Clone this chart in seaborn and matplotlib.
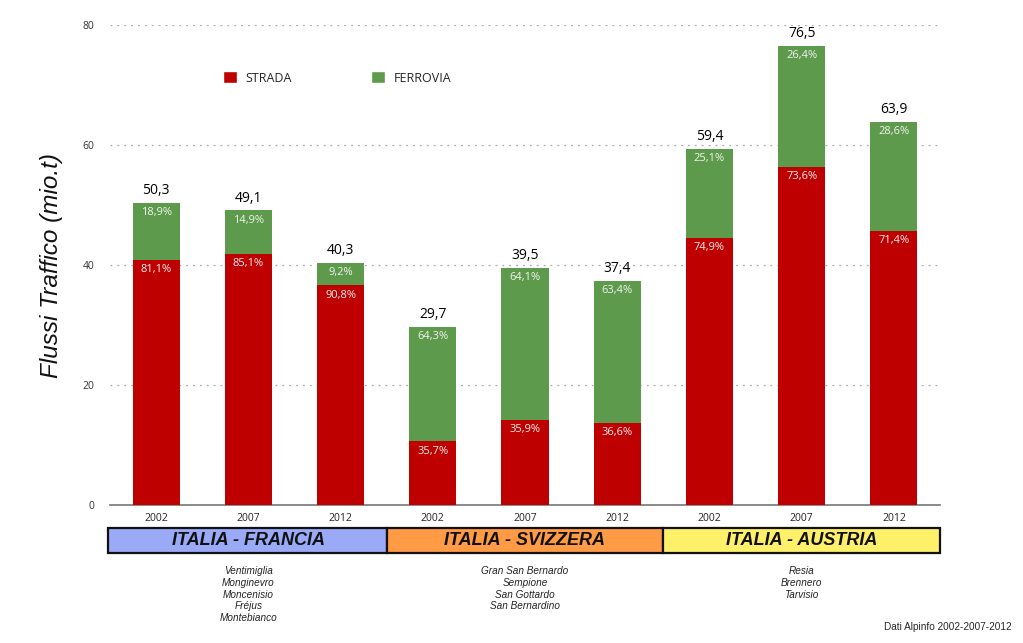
import numpy as np
import pandas as pd
import matplotlib
matplotlib.use('Agg')
import matplotlib.pyplot as plt
import matplotlib.transforms as mtransforms
from matplotlib.patches import Rectangle, Patch
import seaborn as sns

years = ['2002', '2007', '2012'] * 3
totals = [50.3, 49.1, 40.3, 29.7, 39.5, 37.4, 59.4, 76.5, 63.9]
road_pct = [81.1, 85.1, 90.8, 35.7, 35.9, 36.6, 74.9, 73.6, 71.4]
rail_pct = [18.9, 14.9, 9.2, 64.3, 64.1, 63.4, 25.1, 26.4, 28.6]
groups = ['ITALIA - FRANCIA', 'ITALIA - SVIZZERA', 'ITALIA - AUSTRIA']
group_colors = ['#9aaaf7', '#ff9a45', '#fff06a']
passes = [
    ['Ventimiglia', 'Monginevro', 'Moncenisio', 'Fréjus', 'Montebianco'],
    ['Gran San Bernardo', 'Sempione', 'San Gottardo', 'San Bernardino'],
    ['Resia', 'Brennero', 'Tarvisio'],
]

red = '#bf0000'
green = '#5e9a4b'

road = [t * p / 100 for t, p in zip(totals, road_pct)]
df = pd.DataFrame({'bar': [str(i) for i in range(len(totals))],
                   'year': years, 'total': totals, 'road': road})

sns.set_style('white')
plt.rcParams['font.family'] = ['Open Sans', 'DejaVu Sans']

fig = plt.figure(figsize=(10.23, 6.43), dpi=100)
ax = fig.add_axes([110 / 1023, 1 - 505 / 643, 830 / 1023, 480 / 643])

sns.barplot(data=df, x='bar', y='total', color=green, width=0.51,
            saturation=1, linewidth=0, ax=ax, zorder=3)
sns.barplot(data=df, x='bar', y='road', color=red, width=0.51,
            saturation=1, linewidth=0, ax=ax, zorder=4)

ax.set_xlim(-0.5, 8.5)
ax.set_ylim(0, 80)
ax.set_yticks([0, 20, 40, 60, 80])
ax.set_yticklabels(['0', '20', '40', '60', '80'], fontsize=7.5, color='#333333')
ax.set_xticks(range(9))
ax.set_xticklabels(years, fontsize=7.5, color='#222222')
ax.tick_params(length=0, pad=6)
ax.tick_params(axis='y', pad=11)
for v in [20, 40, 60, 80]:
    ax.axhline(v, color='#aaaaaa', lw=0.9, ls=(0, (1.5, 4)), zorder=1)
for s in ['top', 'right', 'left']:
    ax.spines[s].set_visible(False)
ax.spines['bottom'].set_color('#777777')
ax.spines['bottom'].set_linewidth(1.2)
ax.set_xlabel('')
ax.set_ylabel('Flussi Traffico (mio.t)', fontsize=17.5, style='italic',
              family=['Liberation Sans', 'DejaVu Sans'], labelpad=14,
              color='#111111')

# labels on bars
for i in range(len(totals)):
    ax.text(i, totals[i] + 0.8, f'{totals[i]:.1f}'.replace('.', ','),
            ha='center', va='bottom', fontsize=10, color='black', zorder=5)
    ax.text(i, totals[i] - 0.7, f'{rail_pct[i]:.1f}%'.replace('.', ','),
            ha='center', va='top', fontsize=8, color='#f2f2f2', zorder=5)
    ax.text(i, road[i] - 0.7, f'{road_pct[i]:.1f}%'.replace('.', ','),
            ha='center', va='top', fontsize=8, color='#f2f2f2', zorder=5)

# group boxes under the axis
trans = mtransforms.blended_transform_factory(ax.transData, ax.transAxes)
for g in range(3):
    x0 = 3 * g - 0.52 if g == 0 else 3 * g - 0.5
    w = 3.0 + (0.02 if g == 0 else 0)
    ax.add_patch(Rectangle((x0, -0.1), w, 0.052, transform=trans,
                           facecolor=group_colors[g], edgecolor='#111111',
                           lw=1.6, clip_on=False, zorder=2))
    ax.text(3 * g + 1, -0.074, groups[g], transform=trans, ha='center',
            va='center', fontsize=13, fontweight='bold', style='italic',
            family=['Liberation Sans', 'DejaVu Sans'], color='#111111')
    ax.text(3 * g + 1, -0.128, '\n'.join(passes[g]), transform=trans,
            ha='center', va='top', fontsize=7.2, style='italic',
            linespacing=1.2, family=['Liberation Sans', 'DejaVu Sans'],
            color='#222222')

handles = [Patch(facecolor=red, label='STRADA'), Patch(facecolor=green, label='FERROVIA')]
fig.legend(handles=handles, loc='center left', bbox_to_anchor=(212 / 1023, 1 - 78 / 643),
           ncol=2, frameon=False, fontsize=9, handlelength=1.1, handleheight=1.1,
           columnspacing=6.3, handletextpad=0.7)

fig.text(1012 / 1023, 1 - 627 / 643, 'Dati Alpinfo 2002-2007-2012', ha='right',
         va='center', fontsize=7.2, family=['Liberation Sans', 'DejaVu Sans'])

fig.savefig('out.png', dpi=100, facecolor='white')
